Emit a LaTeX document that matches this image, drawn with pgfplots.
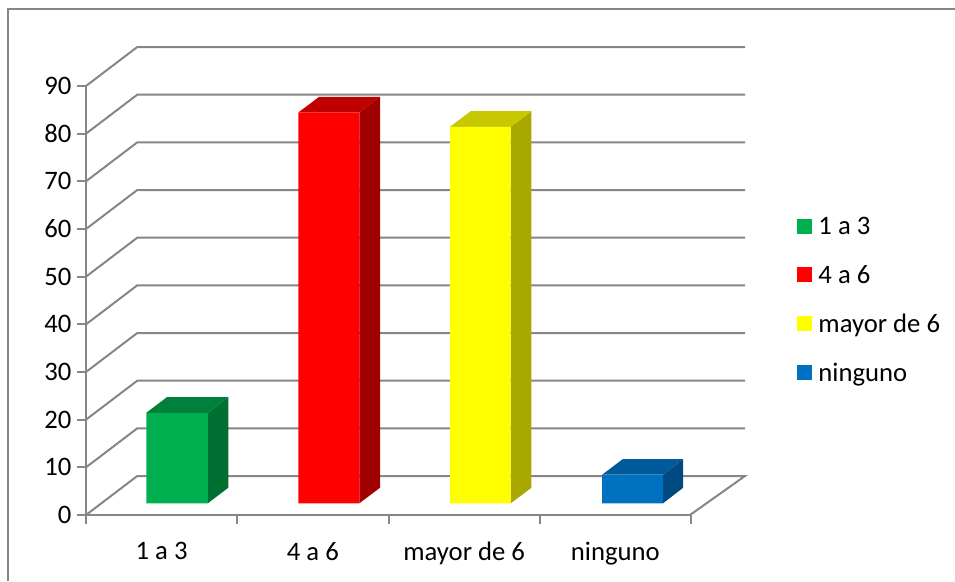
\documentclass[border=0pt]{standalone}
\usepackage{fontspec}
\setmainfont{Carlito}
\usepackage{pgfplots}
\pgfplotsset{compat=1.18}
\definecolor{axgray}{HTML}{868686}
\definecolor{gT}{HTML}{00803A}\definecolor{gS}{HTML}{006F32}\definecolor{gF}{HTML}{00B050}
\definecolor{rT}{HTML}{C00000}\definecolor{rS}{HTML}{A00000}\definecolor{rF}{HTML}{FF0000}
\definecolor{yT}{HTML}{C8C800}\definecolor{yS}{HTML}{A8A800}\definecolor{yF}{HTML}{FFFF00}
\definecolor{bT}{HTML}{005A9A}\definecolor{bS}{HTML}{004A80}\definecolor{bF}{HTML}{0070C0}
\pgfplotsset{grd/.style={draw=axgray,line width=1.5pt,forget plot},
  face/.style={fill=#1,draw=none,forget plot}}
\begin{document}
\begin{tikzpicture}[x=0.75pt,y=0.75pt]
\begin{axis}[
  scale only axis,width=453.75pt,height=321.75pt,
  at={(86pt*0.75,0)},anchor=origin,
  xmin=0,xmax=4,ymin=0,ymax=90,clip=false,
  axis x line*=bottom,axis y line*=left,
  axis line style={draw=axgray,line width=1.5pt,-},
  tick style={draw=axgray,line width=1.5pt},
  major tick length=6.5pt,
  tick align=outside,
  xtick={0,1,2,3,4},xticklabels={},
  extra x ticks={0.5,1.5,2.5,3.5},
  extra x tick labels={1 a 3,4 a 6,mayor de 6,ninguno},
  extra x tick style={major tick length=0pt,tick style={draw=none},
    tick label style={yshift=-17pt}},
  ytick={0,10,...,90},
  tick label style={font=\fontsize{20}{23}\selectfont,text=black},
  /pgf/number format/assume math mode=true,
  yticklabel style={xshift=-1pt},
  legend style={draw=none,fill=none,at={(axis cs:4.7,63.0)},anchor=north west,
    font=\fontsize{20}{23}\selectfont,row sep=17.4pt,inner sep=0pt,
    legend cell align=left},
  legend image code/.code={\fill[#1] (0pt,-4.85pt) rectangle (11.2pt,6.35pt);\path (14pt,0);},
]
% gridlines on the back wall
\addplot[grd] coordinates {(0,0)(0.339,8.18)(4.357,8.18)(3.993,0)};
\addplot[grd] coordinates {(0,10)(0.339,18.18)(4.357,18.18)};
\addplot[grd] coordinates {(0,20)(0.339,28.18)(4.357,28.18)};
\addplot[grd] coordinates {(0,30)(0.339,38.18)(4.357,38.18)};
\addplot[grd] coordinates {(0,40)(0.339,48.18)(4.357,48.18)};
\addplot[grd] coordinates {(0,50)(0.339,58.18)(4.357,58.18)};
\addplot[grd] coordinates {(0,60)(0.339,68.18)(4.357,68.18)};
\addplot[grd] coordinates {(0,70)(0.339,78.18)(4.357,78.18)};
\addplot[grd] coordinates {(0,80)(0.339,88.18)(4.357,88.18)};
\addplot[grd] coordinates {(0,90)(0.339,98.18)(4.357,98.18)};
% bar 1 a 3 (19)
\addplot[face=gS] coordinates {(0.805,2.45)(0.941,5.72)(0.941,24.72)(0.805,21.45)(0.805,2.45)};
\addplot[face=gT] coordinates {(0.399,21.45)(0.805,21.45)(0.941,24.72)(0.535,24.72)(0.399,21.45)};
% bar 4 a 6 (82)
\addplot[face=rS] coordinates {(1.807,2.45)(1.944,5.72)(1.944,87.72)(1.807,84.45)(1.807,2.45)};
\addplot[face=rT] coordinates {(1.404,84.45)(1.807,84.45)(1.944,87.72)(1.541,87.72)(1.404,84.45)};
% bar mayor de 6 (79)
\addplot[face=yS] coordinates {(2.808,2.45)(2.945,5.72)(2.945,84.72)(2.808,81.45)(2.808,2.45)};
\addplot[face=yT] coordinates {(2.407,81.45)(2.808,81.45)(2.945,84.72)(2.544,84.72)(2.407,81.45)};
% bar ninguno (6)
\addplot[face=bS] coordinates {(3.815,2.45)(3.948,5.72)(3.948,11.72)(3.815,8.45)(3.815,2.45)};
\addplot[face=bT] coordinates {(3.412,8.45)(3.815,8.45)(3.948,11.72)(3.549,11.72)(3.412,8.45)};
% front faces, which carry the legend
\addplot[fill=gF,draw=none] coordinates {(0.399,2.45)(0.805,2.45)(0.805,21.45)(0.399,21.45)(0.399,2.45)};
\addplot[fill=rF,draw=none] coordinates {(1.404,2.45)(1.807,2.45)(1.807,84.45)(1.404,84.45)(1.404,2.45)};
\addplot[fill=yF,draw=none] coordinates {(2.407,2.45)(2.808,2.45)(2.808,81.45)(2.407,81.45)(2.407,2.45)};
\addplot[fill=bF,draw=none] coordinates {(3.412,2.45)(3.815,2.45)(3.815,8.45)(3.412,8.45)(3.412,2.45)};
\legend{1 a 3,4 a 6,mayor de 6,ninguno}
\end{axis}
% chart frame; the page is the size of the 955x581 picture
\useasboundingbox (0,515-581) rectangle (955,515);
\draw[axgray,line width=1.5pt] (7.5,515-581) -- (7.5,515-9.5) -- (955,515-9.5);
\end{tikzpicture}
\end{document}
